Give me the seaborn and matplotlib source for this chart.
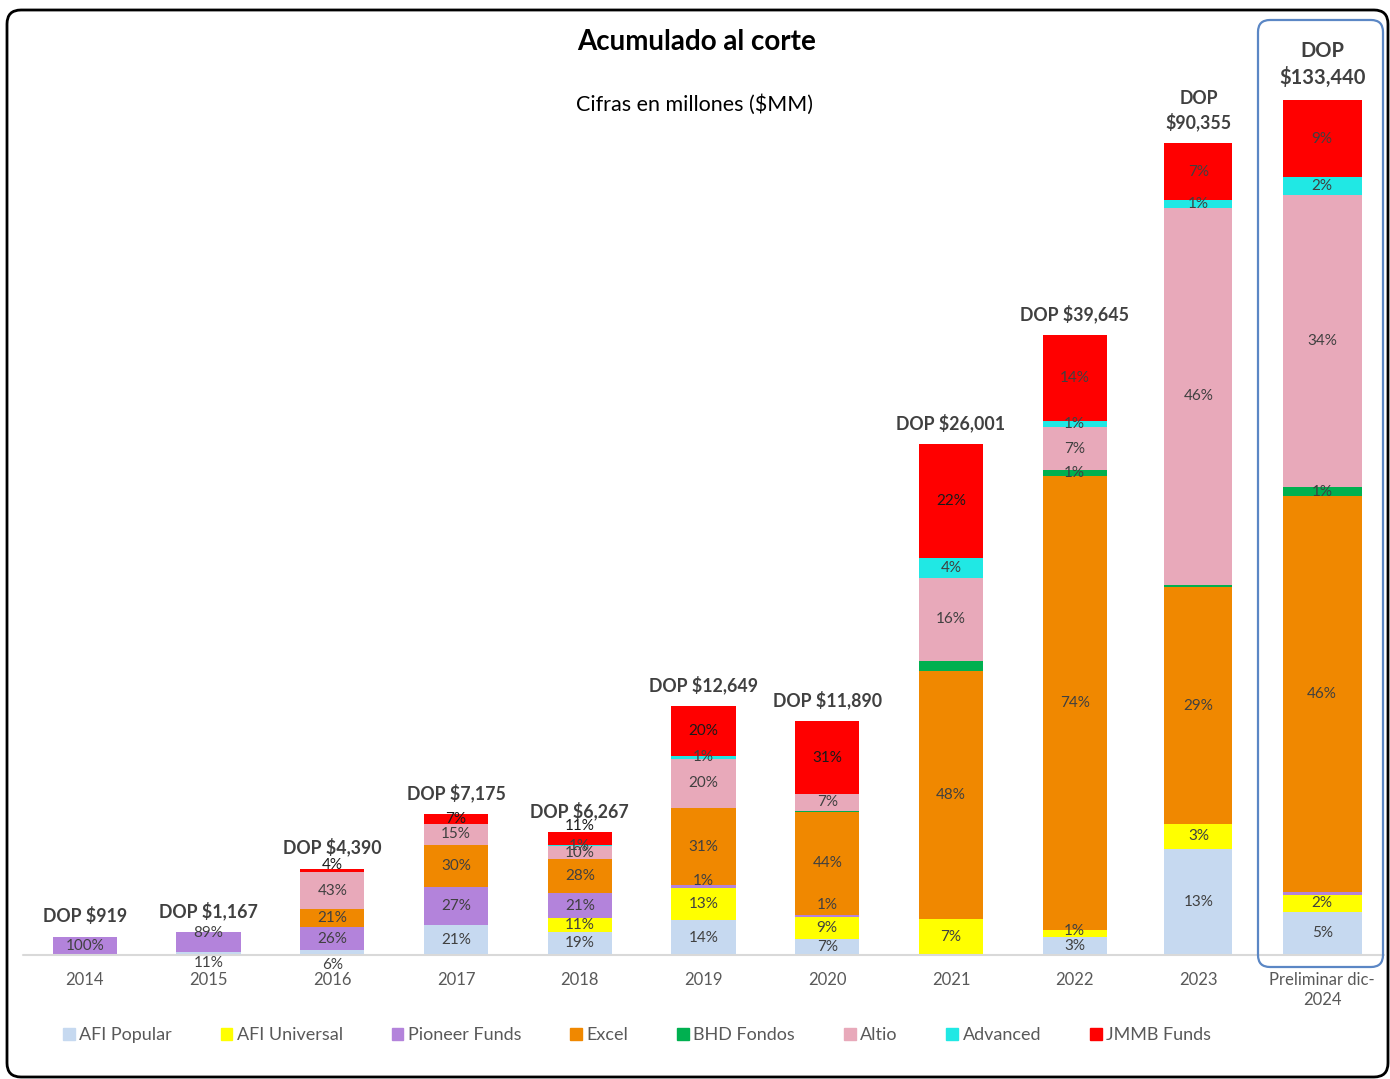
import numpy as np
import matplotlib
matplotlib.use('Agg')
import matplotlib.pyplot as plt
import matplotlib.transforms as mtransforms
from matplotlib.patches import FancyBboxPatch, Patch
from matplotlib.ticker import NullLocator
import seaborn as sns

# Datos: total acumulado (millones DOP) y participación (%) por fondo
periodos = ['2014', '2015', '2016', '2017', '2018', '2019', '2020', '2021', '2022', '2023',
            'Preliminar dic-\n2024']
totales = [919, 1167, 4390, 7175, 6267, 12649, 11890, 26001, 39645, 90355, 133440]

fondos = ['AFI Popular', 'AFI Universal', 'Pioneer Funds', 'Excel', 'BHD Fondos',
          'Altio', 'Advanced', 'JMMB Funds']
afi_popular = [0, 11, 6, 21, 19, 14, 7, 0, 3, 13, 5]
afi_universal = [0, 0, 0, 0, 11, 13, 9, 7, 1, 3, 2]
pioneer = [100, 89, 26, 27, 21, 1, 1, 0, 0, 0, 0.3]
excel = [0, 0, 21, 30, 28, 31, 44, 48, 74, 29, 46]
bhd = [0, 0, 0, 0, 0, 0, 0.5, 2, 1, 0.3, 1]
altio = [0, 0, 43, 15, 10, 20, 7, 16, 7, 46, 34]
advanced = [0, 0, 0, 0, 1, 1, 0, 4, 1, 1, 2]
jmmb = [0, 0, 4, 7, 11, 20, 31, 22, 14, 7, 9]

colores = ['#C6D9F0', '#FFFF00', '#B383DB', '#F08800', '#00B050', '#E8A9BA', '#20E8E4', '#FF0000']

sns.set_theme(style='white')
plt.rcParams['font.family'] = ['Lato', 'DejaVu Sans']

# el original no es lineal: desde 2022 las barras van comprimidas
esc_v = [0, 26001, 39645, 90355, 133440, 400000]
esc_d = [0, 26001, 31547, 41317, 43505, 56830]


def fwd(v):
    return np.interp(v, esc_v, esc_d)


def inv(d):
    return np.interp(d, esc_d, esc_v)


fig = plt.figure(figsize=(13.9, 10.79), dpi=100)
ax = fig.add_axes([23 / 1390, 124 / 1079, 1361 / 1390, 935 / 1079])
ax.set_yscale('function', functions=(fwd, inv))
ax.set_ylim(0, inv(47575))
ax.set_xlim(-0.5, 10.5)

pct = np.array([afi_popular, afi_universal, pioneer, excel, bhd, altio, advanced, jmmb], dtype=float)
frac = pct / pct.sum(axis=0)
cum = np.vstack([np.zeros(len(totales)), np.cumsum(frac, axis=0)])
alto = fwd(np.array(totales, dtype=float))
x = np.arange(len(periodos))
anchos = [0.52] * 9 + [0.55, 0.64]

# etiquetas que en el original están corridas (pixeles)
ajustes = {(0, 1): -9, (0, 2): -13, (2, 1): 9, (7, 2): 5, (7, 4): 13,
           (2, 5): 6, (2, 6): 11, (1, 8): 3}
ocultas = {(4, 7)}

for i, fondo in enumerate(fondos):
    y0 = inv(cum[i] * alto)
    y1 = inv(cum[i + 1] * alto)
    ax.bar(x, y1 - y0, bottom=y0, width=anchos, color=colores[i], label=fondo, linewidth=0)
    for j in range(len(totales)):
        v = pct[i, j]
        if v < 1 or (i, j) in ocultas:
            continue
        ymid = inv((cum[i, j] + cum[i + 1, j]) / 2 * alto[j])
        col = '#1a1a1a' if (i == 7 and j <= 7) else '#404040'
        ax.annotate(f'{v:.0f}%', (x[j], ymid), xytext=(0, ajustes.get((i, j), 0)),
                    textcoords='offset pixels', ha='center', va='center', fontsize=11, color=col)

for j, t in enumerate(totales):
    if j >= 9:
        txt = f'DOP\n${t:,}'
    else:
        txt = f'DOP ${t:,}'
    fs = 14.5 if j == 10 else 12.8
    ax.annotate(txt, (x[j], t), xytext=(0, 12), textcoords='offset pixels', ha='center',
                va='bottom', fontsize=fs, fontweight='bold', color='#404040', linespacing=1.35)

ax.axhline(0, color='#D9D9D9', lw=1.5, clip_on=False)
ax.yaxis.set_major_locator(NullLocator())
ax.yaxis.set_minor_locator(NullLocator())
ax.set_xticks(x)
ax.set_xticklabels(periodos, fontsize=12, color='#595959', linespacing=1.35)
ax.tick_params(axis='x', length=0, pad=12)
sns.despine(ax=ax, left=True, bottom=True)
ax.patch.set_alpha(0)

fig.text(697 / 1390, 1 - 42 / 1079, 'Acumulado al corte', ha='center', va='center',
         fontsize=20, fontweight='bold', color='black')
fig.text(695 / 1390, 1 - 105 / 1079, 'Cifras en millones ($MM)', ha='center', va='center',
         fontsize=15.5, color='black')

handles = [Patch(color=c) for c in colores]
leg = fig.legend(handles, fondos, ncol=8, loc='center', bbox_to_anchor=(637 / 1390, 1 - 1035 / 1079),
                 frameon=False, fontsize=13, handlelength=0.65, handleheight=0.65,
                 handletextpad=0.25, columnspacing=2.7)
for t in leg.get_texts():
    t.set_color('#595959')

ident = mtransforms.IdentityTransform()
caja = FancyBboxPatch((1258, 1079 - 967), 125, 947, boxstyle='round,pad=0,rounding_size=12',
                      fill=False, edgecolor='#5B87C5', lw=1.6, transform=ident)
fig.add_artist(caja)
borde = FancyBboxPatch((7, 2), 1381, 1067, boxstyle='round,pad=0,rounding_size=14',
                       fill=False, edgecolor='black', lw=2, transform=ident)
fig.add_artist(borde)

fig.savefig('out.png', dpi=100)
